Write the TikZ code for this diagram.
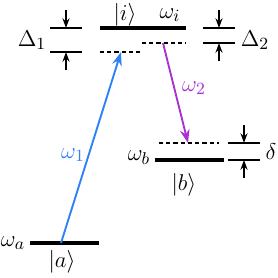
\documentclass[tikz,border=0pt]{standalone}
\usetikzlibrary{arrows.meta, positioning, calc}
\definecolor{pumpblue}{RGB}{45,130,245}
\definecolor{dumppurple}{RGB}{170,50,210}

\begin{document}
\begin{tikzpicture}[x=0.0185cm,y=-0.0185cm,
		every node/.style={font=\fontsize{12.5}{15}\selectfont, inner sep=0pt},
		level/.style={line width=1.6pt},
		virt/.style={line width=0.7pt, dash pattern=on 2.2pt off 1.6pt},
		gap/.style={line width=0.7pt},
		tick/.style={line width=0.7pt, -{Stealth[length=1.8mm, width=1.3mm]}},
		beam/.style={line width=1pt, -{Stealth[length=2.5mm, width=1.8mm]}}]
		\useasboundingbox (0,0) rectangle (278,277);

		% energy levels
		\draw[level] (100,28) coordinate (i1) -- (186,28) coordinate (i2);
		\draw[level] (155,160) coordinate (b1) -- (224,160) coordinate (b2);
		\draw[level] (30,243) coordinate (a1) -- (99,243) coordinate (a2);

		% virtual levels
		\draw[virt] (100,52) coordinate (v1) -- (140,52) coordinate (v2);
		\draw[virt] (142,43) coordinate (w1) -- (186,43) coordinate (w2);
		\draw[virt] (159,143) coordinate (d1) -- (219,143) coordinate (d2);

		% transitions
		\coordinate (pumpA) at (61,243);
		\coordinate (pumpV) at (121,52);
		\coordinate (dumpV) at (163,43);
		\coordinate (dumpB) at (188,143);
		\draw[beam, pumpblue] (pumpA) -- (pumpV);
		\draw[beam, dumppurple] (dumpV) -- (dumpB);
		\node[pumpblue] (omone) at (73,155) {$\omega_1$};
		\node[dumppurple] (omtwo) at (194,88) {$\omega_2$};

		% detuning markers
		\draw[gap] (50,28) coordinate (g1) -- (82,28) coordinate (g2);
		\draw[gap] (50,52) coordinate (g3) -- (82,52) coordinate (g4);
		\draw[tick] (66,10) -- (g1 -| 66,0);
		\draw[tick] (66,70) -- (g3 -| 66,0);
		\draw[gap] (203,28) coordinate (h1) -- (235,28) coordinate (h2);
		\draw[gap] (203,43) coordinate (h3) -- (235,43) coordinate (h4);
		\draw[tick] (219,10) -- (h1 -| 219,0);
		\draw[tick] (219,61) -- (h3 -| 219,0);
		\draw[gap] (228,143) coordinate (k1) -- (260,143) coordinate (k2);
		\draw[gap] (228,160) coordinate (k3) -- (260,160) coordinate (k4);
		\draw[tick] (244,125) -- (k1 -| 244,0);
		\draw[tick] (244,178) -- (k3 -| 244,0);

		% labels
		\node (ketI) at (125,15) {$|i\rangle$};
		\node (omI) at (170,15) {$\omega_i$};
		\node (ketB) at (184,185) {$|b\rangle$};
		\node (omB) at (139,158) {$\omega_b$};
		\node (ketA) at (62,262) {$|a\rangle$};
		\node (omA) at (13,243) {$\omega_a$};
		\node (dOne) at (32,40) {$\Delta_1$};
		\node (dTwo) at (255,40) {$\Delta_2$};
		\node (dlt) at (271,152) {$\delta$};
	\end{tikzpicture}
\end{document}
